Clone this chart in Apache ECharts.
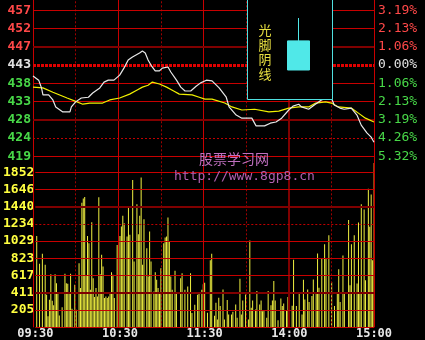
<!DOCTYPE html>
<html><head><meta charset="utf-8">
<script src="https://cdn.jsdelivr.net/npm/echarts@6/dist/echarts.min.js"></script>
<style>html,body{margin:0;padding:0;background:#000;}#c{width:425px;height:340px;}</style>
</head><body><div id="c"></div>
<script>
// ---- tick labels ----
const timeLabels = ["09:30","10:30","11:30","14:00","15:00"];
const priceLabels = ["419","424","428","433","438","443","447","452","457"];
const pctLabels = ["5.32%","4.26%","3.19%","2.13%","1.06%","0.00%","1.06%","2.13%","3.19%"];
const volLabels = ["","205","411","617","823","1029","1234","1440","1646","1852"];
const watermarkTitle = "股票学习网";
const watermarkUrl = "http://www.8gp8.cn";
const insetTitle = "光脚阴线";

// ---- price (minute of session, price) ----
const priceMinutes = [0,4,6,7,11,14,16,21,26,27,30,34,39,42,47,50,53,57,61,64,67,70,75,77,79,81,83,86,89,91,95,97,101,104,107,111,115,118,122,126,131,136,138,143,147,154,157,163,167,171,175,180,183,187,189,194,198,203,207,210,212,216,219,224,228,231,235,238,240];
const priceValues = [439.7,438.6,436.6,434.8,434.8,433.5,431.7,430.4,430.4,431.7,433.0,434.0,434.2,435.3,436.6,438.1,438.6,438.6,439.9,441.7,443.8,444.6,445.6,446.1,445.6,443.8,442.5,441.0,441.0,441.7,442.0,440.7,438.6,436.8,435.8,435.8,437.1,437.9,438.6,438.4,436.6,434.2,431.7,429.6,428.8,428.8,426.8,426.8,427.5,427.8,428.8,430.9,431.9,432.4,431.7,431.1,432.2,433.5,434.0,434.0,432.2,431.4,431.1,431.4,429.6,427.0,425.0,423.9,422.6];

// ---- average price ----
const avgMinutes = [0,7,14,24,31,35,40,49,54,61,68,73,77,81,84,89,94,99,103,112,117,121,126,135,140,147,156,166,173,180,187,194,199,206,210,215,224,229,234,240];
const avgValues = [436.8,436.6,435.5,434.0,433.0,432.4,432.7,432.7,433.5,434.0,435.0,436.0,436.8,437.3,438.1,437.6,436.8,435.8,435.0,434.8,434.2,433.7,433.7,432.7,431.7,430.9,431.1,430.4,430.6,431.4,431.7,431.7,432.7,433.0,432.7,431.7,431.4,430.1,428.8,427.8];

// ---- volume ----
const volMinutes = [1,3,5,7,8,9,10,11,12,13,14,15,16,17,19,21,22,23,24,25,26,28,29,31,32,33,34,35,36,37,38,39,40,41,42,43,44,45,46,47,48,49,50,51,52,53,54,55,56,58,60,61,62,63,65,66,67,69,70,72,73,74,75,76,77,79,80,81,82,84,85,86,87,88,89,91,92,93,94,95,96,97,99,100,103,104,106,108,110,111,113,115,116,118,119,
120,122,124,125,127,128,129,130,131,133,134,136,137,139,140,142,143,145,146,147,149,151,152,153,154,156,157,159,160,161,162,164,165,167,168,169,170,172,174,175,176,178,179,180,182,183,185,187,189,190,191,193,194,196,197,199,200,201,203,205,206,208,210,212,214,215,216,218,219,222,223,224,226,228,229,230,231,233,234,236,237,238,239,240];
const volValues = [1090,756,876,744,386,128,326,632,314,259,632,525,414,139,235,637,525,517,402,637,219,505,207,764,466,1488,1540,1556,617,1090,1003,446,1254,585,358,466,366,1552,633,864,724,346,366,346,366,406,657,625,346,983,1090,1202,1333,1242,1083,1449,1103,1759,784,1469,1111,1333,1791,744,1290,943,605,1143,784,426,657,565,466,406,704,1003,1071,1083,1310,1030,605,446,673,406,585,645,446,485,645,167,267,386,394,446,513,
529,170,800,876,135,290,90,350,251,450,90,322,150,150,183,270,110,578,150,318,390,90,1035,230,318,210,430,270,318,190,199,110,430,260,318,550,318,80,342,250,282,200,360,430,254,804,250,402,150,565,330,450,300,370,570,420,880,470,820,990,820,1098,538,250,420,690,300,857,420,1280,500,990,1098,520,1250,400,1470,1406,560,1656,1200,1585,800,1965];

// ---- inset sample candle: open, close, low, high ----
const sampleCandle = [5.6, 0, 0, 10];

// ---- scale constants ----
const prevClose = 442.5;
const priceStep = 4.708;
const volStep = 205.8;
const toStep = p => (p - prevClose) / priceStep;

// ---- grid line styles ----
const ST = {
  solid:  {color:'#c80000', width:1, type:'solid'},
  thick:  {color:'#800000', width:2, type:'solid'},
  dot:    {color:'#c00000', width:1, type:[2,2]},
  boldDot:{color:'#e00000', width:3, type:[3,1]},
  vdot:   {color:'#a00000', width:1, type:[2,2]},
  vthick: {color:'#800000', width:2, type:'solid'}
};
const priceGridKinds = {'-5':'solid','-4':'dot','-3':'thick','-2':'solid','-1':'solid','0':'boldDot','1':'thick','2':'solid','3':'solid'};
const volGridKinds = ['solid','solid','thick','solid','solid','solid','dot','thick','solid','solid'];
const vertKinds = {0:'solid',30:'vdot',60:'solid',90:'vdot',120:'solid',150:'vdot',180:'vthick',210:'vdot',240:'solid'};

const labelColor = v => { v = Number(v); return v > 0.5 ? '#ff4848' : (Math.abs(v) < 0.5 ? '#e0e0e0' : '#48d848'); };
const ml = data => ({symbol:['none','none'], silent:true, label:{show:false}, emphasis:{disabled:true}, animation:false, data});

const chart = echarts.init(document.getElementById('c'), null, {renderer:'canvas'});
chart.setOption({
  backgroundColor:'#000',
  animation:false,
  grid:[
    {left:33, width:341, top:10.3, height:146},
    {left:33, width:341, top:172.3, height:155},
    {left:33, width:341, top:0, height:327.3},
    {left:287, width:23, top:18, height:52}
  ],
  xAxis:[
    {gridIndex:0, type:'value', min:0, max:240, show:false},
    {gridIndex:1, type:'value', min:0, max:240, interval:60, axisLine:{show:false}, axisTick:{show:false}, splitLine:{show:false},
      axisLabel:{formatter:v=>timeLabels[Math.round(v/60)], color:'#e8e8e8', fontFamily:'DejaVu Sans Mono', fontWeight:'bold', fontSize:12, margin:1}},
    {gridIndex:2, type:'value', min:0, max:240, show:false},
    {gridIndex:3, type:'category', data:[insetTitle], show:false}
  ],
  yAxis:[
    {gridIndex:0, type:'value', min:-5, max:3, interval:1, axisLine:{show:false}, axisTick:{show:false}, splitLine:{show:false},
      axisLabel:{formatter:v=>priceLabels[Math.round(v)+5], color:labelColor, fontFamily:'DejaVu Sans Mono', fontWeight:'bold', fontSize:13, margin:2}},
    {gridIndex:0, type:'value', position:'right', min:-5, max:3, interval:1, axisLine:{show:false}, axisTick:{show:false}, splitLine:{show:false},
      axisLabel:{formatter:v=>pctLabels[Math.round(v)+5], color:labelColor, fontFamily:'DejaVu Sans Mono', fontSize:13, margin:4}},
    {gridIndex:1, type:'value', min:0, max:volStep*9, interval:volStep, axisLine:{show:false}, axisTick:{show:false}, splitLine:{show:false},
      axisLabel:{formatter:v=>volLabels[Math.round(v/volStep)], color:'#ffff40', fontFamily:'DejaVu Sans Mono', fontWeight:'bold', fontSize:13, margin:1}},
    {gridIndex:2, type:'value', min:0, max:1, show:false},
    {gridIndex:3, type:'value', min:0, max:10, show:false}
  ],
  graphic:[
    {type:'rect', z:10, shape:{x:247.5, y:-1, width:85, height:100.5}, style:{fill:'#000', stroke:'#50e0e0', lineWidth:1}},
    {type:'text', z:11, x:265, y:23, style:{text:insetTitle.split('').join('\n'), fill:'#e8e040', font:'13px "Noto Sans CJK SC"', lineHeight:14.5, align:'center', textAlign:'center', verticalAlign:'top', textVerticalAlign:'top'}},
    {type:'text', z:30, x:199, y:159, style:{text:watermarkTitle, fill:'#c070c0', font:'14px "Noto Sans CJK SC"', align:'left', textAlign:'left', verticalAlign:'middle', textVerticalAlign:'middle'}},
    {type:'text', z:30, x:174, y:177, style:{text:watermarkUrl, fill:'#b060b0', font:'13px "DejaVu Sans Mono"', align:'left', textAlign:'left', verticalAlign:'middle', textVerticalAlign:'middle'}}
  ],
  series:[
    {type:'bar', xAxisIndex:1, yAxisIndex:2, z:2, barWidth:1, clip:false,
      data:volMinutes.map((m,i)=>[m, volValues[i]]),
      itemStyle:{color:p=>p.value[0]===240 ? '#ff9020' : '#f0f040'}},
    {type:'line', xAxisIndex:2, yAxisIndex:3, z:3, data:[[0,0]], showSymbol:false, lineStyle:{opacity:0}, silent:true,
      markLine:ml(Object.keys(vertKinds).map(k=>({xAxis:Number(k), lineStyle:ST[vertKinds[k]]})))},
    {type:'line', xAxisIndex:0, yAxisIndex:0, z:3, data:[[0,0]], showSymbol:false, lineStyle:{opacity:0}, silent:true,
      markLine:ml(Object.keys(priceGridKinds).map(k=>({yAxis:Number(k), lineStyle:ST[priceGridKinds[k]]})))},
    {type:'line', xAxisIndex:1, yAxisIndex:2, z:3, data:[[0,0]], showSymbol:false, lineStyle:{opacity:0}, silent:true,
      markLine:ml(volGridKinds.map((k,i)=>({yAxis:i*volStep, lineStyle:ST[k]})))},
    {type:'line', xAxisIndex:0, yAxisIndex:0, z:5, showSymbol:false, smooth:false,
      data:avgMinutes.map((m,i)=>[m, toStep(avgValues[i])]), lineStyle:{color:'#f0f000', width:1.2}},
    {type:'line', xAxisIndex:0, yAxisIndex:0, z:6, showSymbol:false, smooth:false,
      data:priceMinutes.map((m,i)=>[m, toStep(priceValues[i])]), lineStyle:{color:'#e8e8e8', width:1.2}},
    {type:'candlestick', xAxisIndex:3, yAxisIndex:4, z:20, barWidth:23, data:[sampleCandle],
      itemStyle:{color:'#50e8e8', color0:'#50e8e8', borderColor:'#50e8e8', borderColor0:'#50e8e8', borderWidth:1}}
  ]
});
</script></body></html>
